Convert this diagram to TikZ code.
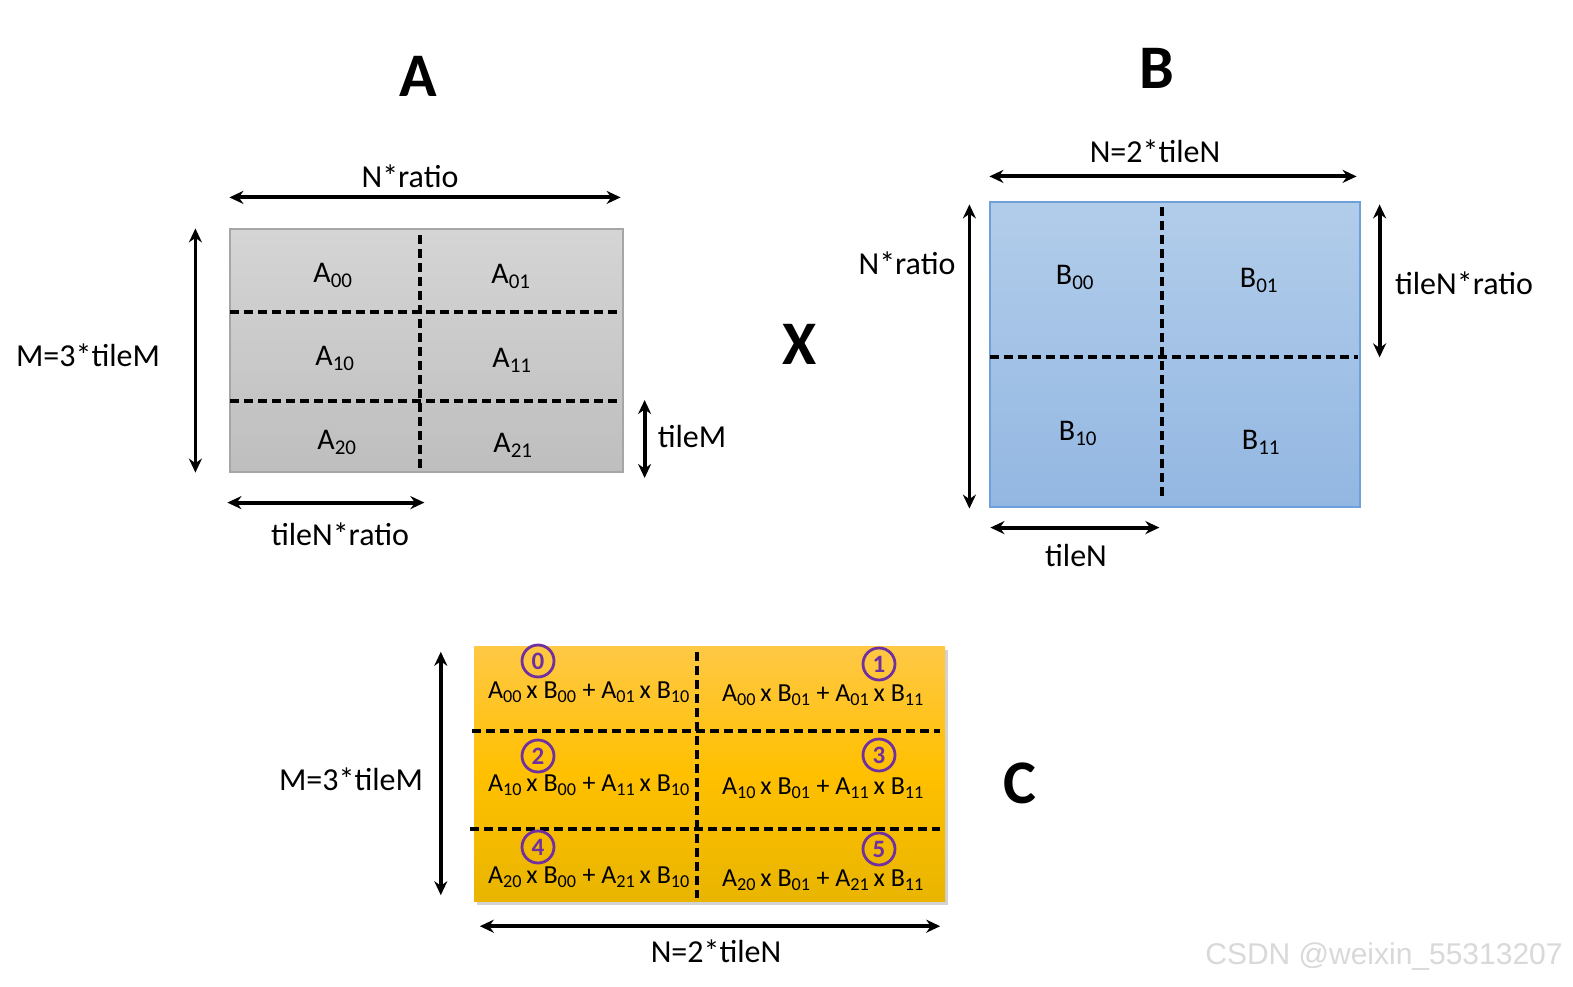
\documentclass[tikz,border=0pt]{standalone}
\usepackage{fontspec}
\setmainfont{Carlito}
\newfontfamily\wmfont{Liberation Sans}
\usetikzlibrary{arrows.meta,positioning,shadows}
\definecolor{Purple}{HTML}{7030A0}
\definecolor{GreyTop}{HTML}{D5D5D5}
\definecolor{GreyBot}{HTML}{BEBEBE}
\definecolor{BlueTop}{HTML}{B2CDEA}
\definecolor{BlueBot}{HTML}{93B7E2}
\definecolor{BlueEdge}{HTML}{6FA0DC}
\definecolor{GoldTop}{HTML}{FFC845}
\definecolor{GoldMid}{HTML}{FFC000}
\definecolor{GoldBot}{HTML}{E9B500}
\tikzset{
  dim/.style={{Stealth[length=14pt,width=13pt]}-{Stealth[length=14pt,width=13pt]}, line width=3.8pt},
  grid/.style={dash pattern=on 9pt off 5pt, line width=3.6pt},
  lbl/.style={font=\fontsize{32}{36}\selectfont, inner sep=0pt},
  title/.style={font=\fontsize{62}{70}\selectfont\bfseries, inner sep=0pt},
  blk/.style={font=\fontsize{30}{34}\selectfont, inner sep=0pt},
  cell/.style={font=\fontsize{26}{30}\selectfont, inner sep=0pt},
  num/.style={circle, draw=Purple, line width=2.8pt, text=Purple, minimum size=32pt, inner sep=0pt, font=\fontsize{25}{28}\selectfont\bfseries},
  matA/.style={draw=gray!70, line width=1.2pt, top color=GreyTop, bottom color=GreyBot, inner sep=0pt},
  matB/.style={draw=BlueEdge, line width=1.2pt, top color=BlueTop, bottom color=BlueBot, inner sep=0pt},
  matC/.style={top color=GoldTop, bottom color=GoldBot, middle color=GoldMid, inner sep=0pt,
    drop shadow={shadow xshift=3pt, shadow yshift=-4pt, opacity=0.35}}
}
\begin{document}
\begin{tikzpicture}[x=1pt,y=-1pt]
\useasboundingbox (0,0) rectangle (1573,987);
\fill[white] (0,0) rectangle (1573,987);

% matrix A
\node[title] (tA) at (418,76) {A};
\node[matA, minimum width=393pt, minimum height=243pt] (A) at (426.5,350.5) {};
\draw[grid] (420,235) -- (420,472);
\draw[grid] (230,312) -- (617,312);
\draw[grid] (230,401) -- (617,401);
\node[blk] (a00) at (333,275) {A\textsubscript{00}};
\node[blk] (a01) at (511,276) {A\textsubscript{01}};
\node[blk] (a10) at (335,358) {A\textsubscript{10}};
\node[blk] (a11) at (512,360) {A\textsubscript{11}};
\node[blk] (a20) at (337,442) {A\textsubscript{20}};
\node[blk] (a21) at (513,445) {A\textsubscript{21}};
\draw[dim] ([yshift=31pt]A.north west) -- ([shift={(-3pt,31pt)}]A.north east);
\node[lbl] (lAn) at (410,176) {N*ratio};
\draw[dim] ([xshift=-34pt]A.north west) -- ([xshift=-34pt]A.south west);
\node[lbl] (lAm) at (88,355) {M=3*tileM};
\draw[dim] ([shift={(21pt,-49.5pt)}]A.east) -- ([shift={(21pt,-127.5pt)}]A.east);
\node[lbl] (lAt) at (692,437) {tileM};
\draw[dim] ([shift={(-2pt,-30pt)}]A.south west) -- ([shift={(195pt,-30pt)}]A.south west);
\node[lbl] (lAr) at (340,534) {tileN*ratio};

\node[title] (times) at (800,344) {X};

% matrix B
\node[title] (tB) at (1157,68) {B};
\node[matB, minimum width=370pt, minimum height=305pt] (B) at (1175,354.5) {};
\draw[grid] (1162,207) -- (1162,497);
\draw[grid] (990,357) -- (1358,357);
\node[blk] (b00) at (1075,277) {B\textsubscript{00}};
\node[blk] (b01) at (1259,280) {B\textsubscript{01}};
\node[blk] (b10) at (1078,433) {B\textsubscript{10}};
\node[blk] (b11) at (1261,442) {B\textsubscript{11}};
\draw[dim] ([yshift=25pt]B.north west) -- ([shift={(-4pt,25pt)}]B.north east);
\node[lbl] (lBn) at (1155,151) {N=2*tileN};
\draw[dim] ([shift={(-20pt,-3pt)}]B.north west) -- ([shift={(-20pt,-1pt)}]B.south west);
\node[lbl] (lBr) at (907,263) {N*ratio};
\draw[dim] ([shift={(19pt,-3pt)}]B.north east) -- ([shift={(19pt,-156pt)}]B.north east);
\node[lbl] (lBt) at (1464,283) {tileN*ratio};
\draw[dim] ([shift={(1pt,-20pt)}]B.south west) -- ([shift={(170pt,-20pt)}]B.south west);
\node[lbl] (lBs) at (1076,556) {tileN};

% matrix C
\node[matC, minimum width=471pt, minimum height=255pt] (C) at (709.5,773.5) {};
\draw[grid] (697,652) -- (697,898);
\draw[grid] (472,731) -- (940,731);
\draw[grid] (470,829) -- (940,829);
\foreach \r/\y/\na/\nb in {0/692/661/664, 1/785/756/755, 2/877/847/849}{
  \pgfmathtruncatemacro{\ia}{2*\r}
  \pgfmathtruncatemacro{\ib}{2*\r+1}
  \node[num] (n\r0) at (538,\na) {\ia};
  \node[num] (n\r1) at (879,\nb) {\ib};
  \node[cell] (c\r0) at (589,\y) {A\textsubscript{\r0}\,x B\textsubscript{00} + A\textsubscript{\r1}\,x B\textsubscript{10}};
  \node[cell] (c\r1) at (823,\y+3) {A\textsubscript{\r0}\,x B\textsubscript{01} + A\textsubscript{\r1}\,x B\textsubscript{11}};
}
\draw[dim] ([shift={(-33pt,-6pt)}]C.north west) -- ([shift={(-33pt,6pt)}]C.south west);
\node[lbl] (lCm) at (351,779) {M=3*tileM};
\draw[dim] ([shift={(6pt,-25pt)}]C.south west) -- ([shift={(-5pt,-25pt)}]C.south east);
\node[lbl] (lCn) at (716,951) {N=2*tileN};
\node[title] (tC) at (1020,783) {C};

\node[font=\wmfont\fontsize{30}{34}\selectfont, text=gray!30, inner sep=0pt] (wm) at (1384,957) {CSDN @weixin\_55313207};
\end{tikzpicture}
\end{document}
